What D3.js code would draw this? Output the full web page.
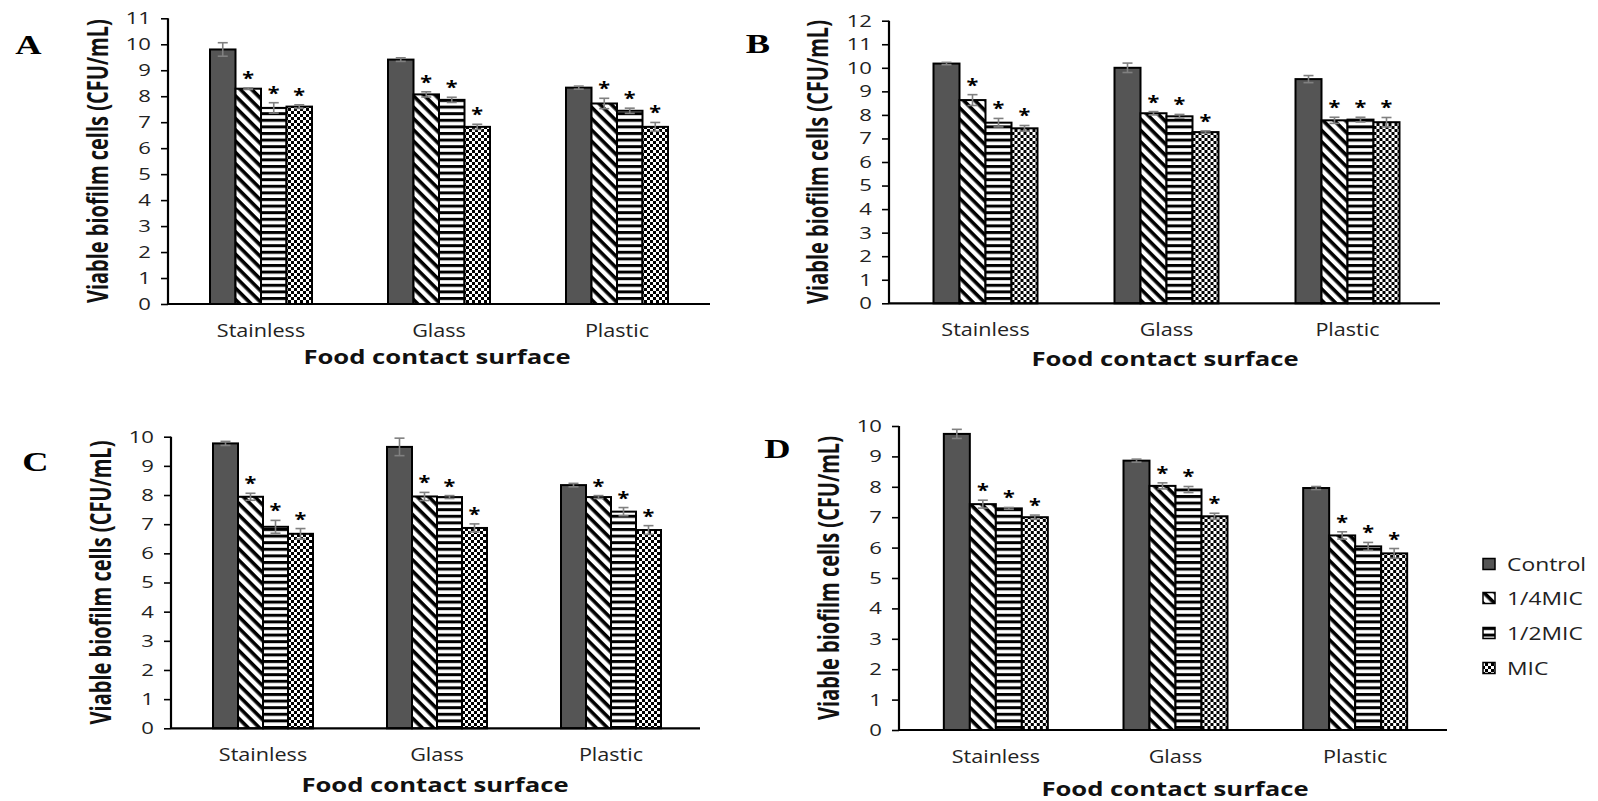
<!DOCTYPE html>
<html>
<head>
<meta charset="utf-8">
<script src="https://cdn.jsdelivr.net/npm/d3@7/dist/d3.min.js"></script>
<style>
  body { margin: 0; background: #fff; }
  svg { display: block; }
</style>
</head>
<body>
<svg id="fig" width="1598" height="801"></svg>
<script>
// ---- data -------------------------------------------------------------
const categories = ["Stainless", "Glass", "Plastic"];
const series = ["Control", "1/4MIC", "1/2MIC", "MIC"];
const panelLetters = ["A", "B", "C", "D"];
const yMaxima = [11, 12, 10, 10];
const yTickStep = 1;

// viable biofilm cells (log CFU/mL); rows follow `categories`, columns follow `series`
const valuesA = [[9.80, 8.29, 7.55, 7.60], [9.41, 8.07, 7.86, 6.82], [8.33, 7.72, 7.44, 6.82]];
const errorsA = [[0.26, 0.03, 0.20, 0.07], [0.07, 0.10, 0.10, 0.10], [0.06, 0.20, 0.10, 0.17]];
const valuesB = [[10.18, 8.63, 7.67, 7.43], [10.00, 8.07, 7.94, 7.27], [9.52, 7.77, 7.80, 7.69]];
const errorsB = [[0.05, 0.23, 0.18, 0.12], [0.20, 0.07, 0.08, 0.05], [0.15, 0.13, 0.10, 0.20]];
const valuesC = [[9.77, 7.94, 6.91, 6.67], [9.65, 7.95, 7.93, 6.87], [8.34, 7.93, 7.43, 6.80]];
const errorsC = [[0.07, 0.12, 0.22, 0.18], [0.30, 0.14, 0.05, 0.14], [0.06, 0.05, 0.14, 0.15]];
const valuesD = [[9.74, 7.43, 7.29, 7.00], [8.86, 8.03, 7.91, 7.03], [7.96, 6.40, 6.04, 5.81]];
const errorsD = [[0.15, 0.13, 0.03, 0.07], [0.05, 0.10, 0.10, 0.10], [0.05, 0.12, 0.13, 0.16]];
// treatments significantly different from the control
const significant = [false, true, true, true];

const yAxisTitle = "Viable biofilm cells (CFU/mL)";
const xAxisTitle = "Food contact surface";

// ---- layout -----------------------------------------------------------
const SANS = "'Open Sans', 'DejaVu Sans', sans-serif";
const SERIF = "'Liberation Serif', 'DejaVu Serif', serif";
// font size and horizontal stretch for each kind of lettering
const type = {
  yTick:  { size: 17,   sx: 1.3 },
  xTick:  { size: 18,   sx: 1.2 },
  title:  { size: 19,   sx: 1.35 },
  yTitle: { size: 20,   sx: 1.4 },
  letter: { size: 28,   sx: 1.3 },
  legend: { size: 18,   sx: 1.27 },
  star:   { size: 18,   sx: 1.2 }
};

const layout = [
  { axisX: 168, axisEnd: 710, y0: 304, yTop: 18.3, band: [172, 706], group: 102,
    letter: [28.5, 54], yTitleX: 97, tickY: 331, titleX: 437, titleY: 357 },
  { axisX: 889, axisEnd: 1440, y0: 303.3, yTop: 20.7, band: [895, 1438], group: 104,
    letter: [758, 53], yTitleX: 817, tickY: 330, titleX: 1165, titleY: 359 },
  { axisX: 171, axisEnd: 700, y0: 728.3, yTop: 436.7, band: [176, 698], group: 100,
    letter: [35.5, 471], yTitleX: 100, tickY: 755, titleX: 435, titleY: 785 },
  { axisX: 899, axisEnd: 1447, y0: 730, yTop: 426, band: [906, 1445], group: 104,
    letter: [777.5, 458], yTitleX: 828, tickY: 757, titleX: 1175, titleY: 789 }
];
const legendLayout = { x: 1483, textX: 1507, rows: [564, 598, 633, 668], w: 12, h: 11 };

const panelValues = [valuesA, valuesB, valuesC, valuesD];
const panelErrors = [errorsA, errorsB, errorsC, errorsD];

// ---- drawing ----------------------------------------------------------
const svg = d3.select("#fig");
svg.append("rect").attr("width", 1598).attr("height", 801).attr("fill", "#fff");

const defs = svg.append("defs");
const diag = defs.append("pattern").attr("id", "pat-diag")
  .attr("patternUnits", "userSpaceOnUse").attr("width", 8).attr("height", 8)
  .attr("patternTransform", "rotate(45)");
diag.append("rect").attr("width", 8).attr("height", 8).attr("fill", "#fff");
diag.append("rect").attr("width", 8).attr("height", 3.6).attr("fill", "#000");

const horiz = defs.append("pattern").attr("id", "pat-horiz")
  .attr("patternUnits", "userSpaceOnUse").attr("width", 8).attr("height", 6.6);
horiz.append("rect").attr("width", 8).attr("height", 6.6).attr("fill", "#fff");
horiz.append("rect").attr("width", 8).attr("height", 3).attr("fill", "#000");

const check = defs.append("pattern").attr("id", "pat-check")
  .attr("patternUnits", "userSpaceOnUse").attr("width", 6).attr("height", 6);
check.append("rect").attr("width", 6).attr("height", 6).attr("fill", "#fff");
check.append("rect").attr("width", 3).attr("height", 3).attr("fill", "#000");
check.append("rect").attr("x", 3).attr("y", 3).attr("width", 3).attr("height", 3).attr("fill", "#000");

const fills = d3.scaleOrdinal().domain(series)
  .range(["#555555", "url(#pat-diag)", "url(#pat-horiz)", "url(#pat-check)"]);

function stretchedText(g, x, y, str, t) {
  return g.append("text")
    .attr("transform", `translate(${x},${y}) scale(${t.sx},1)`)
    .attr("font-size", t.size)
    .text(str);
}

panelLetters.forEach((letter, p) => {
  const L = layout[p];
  const values = panelValues[p];
  const errors = panelErrors[p];
  const g = svg.append("g").attr("class", "panel-" + letter);

  const y = d3.scaleLinear().domain([0, yMaxima[p]]).range([L.y0, L.yTop]);
  const step = (L.band[1] - L.band[0]) / categories.length;
  const pad = 1 - L.group / step;
  const x0 = d3.scaleBand().domain(categories).range(L.band)
    .paddingInner(pad).paddingOuter(pad / 2);
  const x1 = d3.scaleBand().domain(series).range([0, x0.bandwidth()]);

  // bars
  const groups = g.selectAll("g.grp").data(categories).join("g")
    .attr("class", "grp")
    .attr("transform", c => `translate(${x0(c)},0)`);

  groups.each(function (c, ci) {
    const gg = d3.select(this);
    const rows = series.map((s, si) => ({ s, si, v: values[ci][si], e: errors[ci][si] }));
    const cx = d => x1(d.s) + x1.bandwidth() / 2;

    gg.selectAll("rect").data(rows).join("rect")
      .attr("x", d => x1(d.s))
      .attr("y", d => y(d.v))
      .attr("width", x1.bandwidth())
      .attr("height", d => y(0) - y(d.v))
      .attr("fill", d => fills(d.s))
      .attr("stroke", "#000")
      .attr("stroke-width", 2);

    // error bars
    const eb = gg.selectAll("g.err").data(rows).join("g").attr("class", "err")
      .attr("stroke", "#808080").attr("stroke-width", 1.6);
    eb.append("line")
      .attr("x1", cx).attr("x2", cx)
      .attr("y1", d => y(d.v - d.e)).attr("y2", d => y(d.v + d.e));
    eb.append("line")
      .attr("x1", d => cx(d) - 5).attr("x2", d => cx(d) + 5)
      .attr("y1", d => y(d.v + d.e)).attr("y2", d => y(d.v + d.e));
    eb.append("line")
      .attr("x1", d => cx(d) - 5).attr("x2", d => cx(d) + 5)
      .attr("y1", d => y(d.v - d.e)).attr("y2", d => y(d.v - d.e));

    // significance asterisks
    gg.selectAll("text.sig").data(rows.filter(d => significant[d.si])).join("text")
      .attr("class", "sig")
      .attr("transform", d => `translate(${cx(d)},${y(d.v + d.e) - 3}) scale(${type.star.sx},1)`)
      .attr("text-anchor", "middle")
      .attr("font-family", SANS).attr("font-weight", 700).attr("font-size", type.star.size)
      .text("*");
  });

  // y axis
  const yAxis = d3.axisLeft(y)
    .tickValues(d3.range(0, yMaxima[p] + 1, yTickStep))
    .tickSize(7).tickSizeOuter(0).tickPadding(10);
  const ya = g.append("g").attr("transform", `translate(${L.axisX},0)`).call(yAxis);
  ya.select(".domain").attr("stroke", "#000").attr("stroke-width", 2.2)
    .attr("d", `M0,${L.y0}V${L.yTop}`);
  ya.selectAll(".tick line").attr("stroke", "#000").attr("stroke-width", 1.6);
  ya.selectAll(".tick text")
    .attr("font-family", SANS).attr("font-size", type.yTick.size).attr("fill", "#222")
    .attr("transform", `scale(${type.yTick.sx},1)`)
    .attr("x", -(7 + 10) / type.yTick.sx);

  // x axis baseline and category labels
  g.append("line")
    .attr("x1", L.axisX).attr("x2", L.axisEnd)
    .attr("y1", L.y0).attr("y2", L.y0)
    .attr("stroke", "#000").attr("stroke-width", 2.2);
  const xAxis = d3.axisBottom(x0).tickSize(0).tickPadding(0);
  const xa = g.append("g").attr("transform", `translate(0,${L.tickY})`).call(xAxis);
  xa.select(".domain").remove();
  xa.selectAll(".tick text")
    .attr("font-family", SANS).attr("font-size", type.xTick.size).attr("fill", "#222")
    .attr("dy", "0.35em").attr("y", 0)
    .attr("transform", `scale(${type.xTick.sx},1)`);

  // axis titles
  stretchedText(g, L.titleX, L.titleY, xAxisTitle, type.title)
    .attr("text-anchor", "middle").attr("dominant-baseline", "central")
    .attr("font-family", SANS).attr("font-weight", 700)
    .attr("fill", "#111");
  g.append("text")
    .attr("transform", `translate(${L.yTitleX},${(L.y0 + L.yTop) / 2}) scale(${type.yTitle.sx},1) rotate(-90)`)
    .attr("text-anchor", "middle").attr("dominant-baseline", "central")
    .attr("font-family", SANS).attr("font-weight", 700).attr("font-size", type.yTitle.size)
    .attr("fill", "#111")
    .text(yAxisTitle);

  // panel letter
  stretchedText(g, L.letter[0], L.letter[1], letter, type.letter)
    .attr("text-anchor", "middle")
    .attr("font-family", SERIF).attr("font-weight", 700)
    .attr("fill", "#000");
});

// legend
const legend = svg.append("g").attr("class", "legend");
series.forEach((s, i) => {
  const cy = legendLayout.rows[i];
  legend.append("rect")
    .attr("x", legendLayout.x).attr("y", cy - legendLayout.h / 2)
    .attr("width", legendLayout.w).attr("height", legendLayout.h)
    .attr("fill", fills(s)).attr("stroke", "#000").attr("stroke-width", 1.5);
  stretchedText(legend, legendLayout.textX, cy, s, type.legend)
    .attr("dominant-baseline", "central")
    .attr("font-family", SANS).attr("fill", "#222");
});
</script>
</body>
</html>
